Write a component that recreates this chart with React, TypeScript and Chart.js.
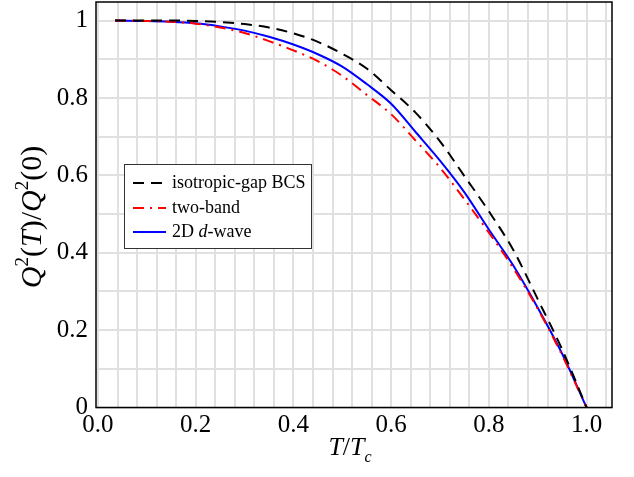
import React, { useEffect, useRef } from 'react';
import { Chart, registerables } from 'chart.js';

Chart.register(...registerables);

// Reduced temperature T/Tc
const tValues = [0.035, 0.1, 0.15, 0.2, 0.25, 0.3, 0.35, 0.4, 0.45, 0.5, 0.55, 0.6, 0.65, 0.7, 0.75, 0.8, 0.85, 0.9, 0.95, 1.0];
// Q^2(T)/Q^2(0) curves
const bcsValues = [1.0, 1.0, 1.0, 0.999, 0.996, 0.991, 0.982, 0.967, 0.945, 0.914, 0.876, 0.82, 0.762, 0.688, 0.598, 0.507, 0.407, 0.28, 0.15, 0.0];
const twoBandValues = [1.0, 0.999, 0.997, 0.992, 0.982, 0.968, 0.947, 0.923, 0.895, 0.857, 0.808, 0.758, 0.69, 0.62, 0.538, 0.452, 0.36, 0.255, 0.135, 0.0];
const dWaveValues = [1.0, 0.999, 0.997, 0.993, 0.985, 0.974, 0.958, 0.938, 0.913, 0.881, 0.836, 0.785, 0.712, 0.638, 0.556, 0.46, 0.367, 0.258, 0.139, 0.0];

const seriesLabels = ['isotropic-gap BCS', 'two-band', '2D d-wave'];
const xTickValues = [0, 0.2, 0.4, 0.6, 0.8, 1.0];
const xTickLabels = ['0.0', '0.2', '0.4', '0.6', '0.8', '1.0'];
const yTickValues = [0, 0.2, 0.4, 0.6, 0.8, 1.0];
const yTickLabels = ['0', '0.2', '0.4', '0.6', '0.8', '1'];

const SERIF = '"Liberation Serif", "DejaVu Serif", serif';

type Seg = { t: string; italic?: boolean; sup?: boolean; sub?: boolean };

function segFont(s: Seg, size: number) {
  const sz = s.sup || s.sub ? Math.round(size * 0.62) : size;
  return `${s.italic ? 'italic ' : ''}${sz}px ${SERIF}`;
}

function measureSegs(ctx: CanvasRenderingContext2D, segs: Seg[], size: number) {
  let w = 0;
  for (const s of segs) {
    ctx.font = segFont(s, size);
    w += ctx.measureText(s.t).width;
  }
  return w;
}

function drawSegs(ctx: CanvasRenderingContext2D, segs: Seg[], size: number, x: number, y: number) {
  let cx = x;
  for (const s of segs) {
    ctx.font = segFont(s, size);
    let dy = 0;
    if (s.sup) dy = -size * 0.42;
    if (s.sub) dy = size * 0.28;
    ctx.fillText(s.t, cx, y + dy);
    cx += ctx.measureText(s.t).width;
  }
}

function legendSegs(label: string): Seg[] {
  if (label === '2D d-wave') return [{ t: '2D ' }, { t: 'd', italic: true }, { t: '-wave' }];
  return [{ t: label }];
}

const decorPlugin = {
  id: 'decor',
  afterDraw(chart: any) {
    const { ctx, chartArea } = chart;
    const { left, top, right, bottom } = chartArea;
    ctx.save();
    // frame
    ctx.strokeStyle = '#000';
    ctx.lineWidth = 1.5;
    ctx.setLineDash([]);
    ctx.strokeRect(left, top, right - left, bottom - top);

    // legend
    const bx = 124, by = 164, bw = 187, bh = 84;
    ctx.fillStyle = '#fff';
    ctx.fillRect(bx, by, bw, bh);
    ctx.strokeStyle = '#333';
    ctx.lineWidth = 1;
    ctx.strokeRect(bx + 0.5, by + 0.5, bw, bh);
    const rows = [183, 208, 232];
    chart.data.datasets.forEach((ds: any, i: number) => {
      const y = rows[i];
      ctx.strokeStyle = ds.borderColor;
      ctx.lineWidth = ds.borderWidth;
      ctx.setLineDash(ds.borderDash || []);
      ctx.beginPath();
      ctx.moveTo(bx + 9, y);
      ctx.lineTo(bx + 42, y);
      ctx.stroke();
      ctx.setLineDash([]);
      ctx.fillStyle = '#000';
      ctx.textBaseline = 'middle';
      drawSegs(ctx, legendSegs(ds.label), 18, bx + 48, y);
    });

    // axis titles
    ctx.fillStyle = '#000';
    ctx.textBaseline = 'alphabetic';
    const xt: Seg[] = [{ t: 'T', italic: true }, { t: '/' }, { t: 'T', italic: true }, { t: 'c', italic: true, sub: true }];
    const xs = 26;
    const xw = measureSegs(ctx, xt, xs);
    drawSegs(ctx, xt, xs, (left + right) / 2 - xw / 2 - 4, 455);

    const yt: Seg[] = [
      { t: 'Q', italic: true }, { t: '2', sup: true }, { t: '(' }, { t: 'T', italic: true }, { t: ')/' },
      { t: 'Q', italic: true }, { t: '2', sup: true }, { t: '(0)' },
    ];
    const ys = 30;
    const yw = measureSegs(ctx, yt, ys);
    ctx.translate(41, 217);
    ctx.rotate(-Math.PI / 2);
    drawSegs(ctx, yt, ys, -yw / 2, 0);
    ctx.restore();
  },
};

function gridTicks(step: number, max: number) {
  const out: { value: number }[] = [];
  const n = Math.round(max / step);
  for (let k = 0; k <= n; k++) out.push({ value: Math.round(k * step * 1000) / 1000 });
  return out;
}

function labelFor(v: number, values: number[], labels: string[]) {
  for (let i = 0; i < values.length; i++) if (Math.abs(values[i] - v) < 1e-6) return labels[i];
  return '';
}

export default function App() {
  const ref = useRef<HTMLCanvasElement | null>(null);
  useEffect(() => {
    if (!ref.current) return;
    const mk = (vals: number[]) => tValues.map((t, i) => ({ x: t, y: vals[i] }));
    const chart = new Chart(ref.current, {
      type: 'line',
      data: {
        datasets: [
          { label: seriesLabels[0], data: mk(bcsValues), borderColor: '#000000', borderWidth: 2, borderDash: [11, 7], pointRadius: 0, cubicInterpolationMode: 'monotone', fill: false },
          { label: seriesLabels[1], data: mk(twoBandValues), borderColor: '#ff0000', borderWidth: 2, borderDash: [11, 6, 2, 6], pointRadius: 0, cubicInterpolationMode: 'monotone', fill: false },
          { label: seriesLabels[2], data: mk(dWaveValues), borderColor: '#0000ff', borderWidth: 2, pointRadius: 0, cubicInterpolationMode: 'monotone', fill: false },
        ],
      },
      options: {
        animation: false,
        responsive: true,
        maintainAspectRatio: false,
        layout: { padding: { left: 0, right: 22, top: 2, bottom: 0 } },
        plugins: { legend: { display: false }, tooltip: { enabled: false }, title: { display: false } },
        scales: {
          x: {
            type: 'linear',
            min: -0.004,
            max: 1.052,
            border: { display: false },
            grid: { color: '#e0e0e0', lineWidth: 2, drawTicks: false },
            afterBuildTicks: (scale: any) => { scale.ticks = gridTicks(0.04, 1.04); },
            afterFit: (scale: any) => { scale.height = 69.5; scale.paddingLeft = 0; scale.paddingRight = 0; },
            ticks: {
              autoSkip: false,
              maxRotation: 0,
              padding: 3,
              color: '#000',
              font: { family: SERIF, size: 25 },
              callback: (v: any) => labelFor(Number(v), xTickValues, xTickLabels),
            },
          },
          y: {
            type: 'linear',
            min: 0,
            max: 1.048,
            border: { display: false },
            grid: { color: '#e0e0e0', lineWidth: 2, drawTicks: false },
            afterBuildTicks: (scale: any) => { scale.ticks = gridTicks(0.1, 1.0); },
            afterFit: (scale: any) => { scale.width = 96; scale.paddingTop = 0; scale.paddingBottom = 0; },
            ticks: {
              autoSkip: false,
              padding: 8,
              color: '#000',
              font: { family: SERIF, size: 25 },
              callback: (v: any) => labelFor(Number(v), yTickValues, yTickLabels),
            },
          },
        },
      },
      plugins: [decorPlugin],
    } as any);
    return () => chart.destroy();
  }, []);
  return (
    <div style={{ position: 'fixed', left: 0, top: 0, width: 634, height: 477, background: '#fff' }}>
      <canvas ref={ref} />
    </div>
  );
}
